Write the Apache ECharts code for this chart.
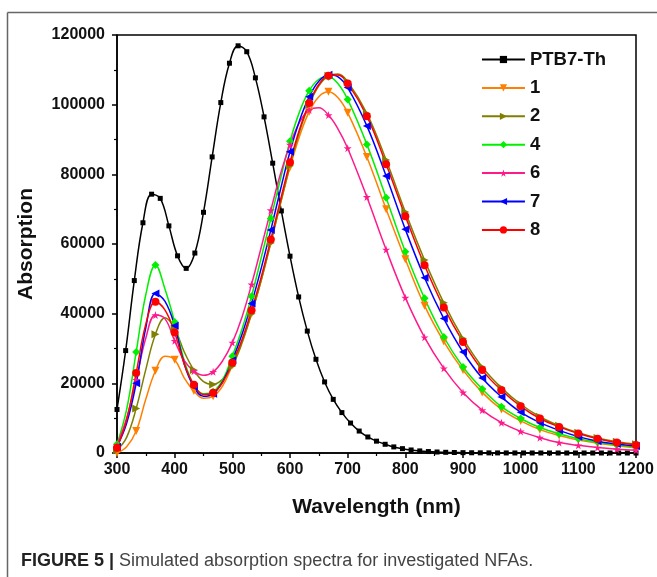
<!DOCTYPE html>
<html>
<head>
<meta charset="utf-8">
<script src="https://cdn.jsdelivr.net/npm/echarts@6/dist/echarts.min.js"></script>
<style>
  html, body { margin: 0; padding: 0; background: #fff; }
  #chart { width: 657px; height: 577px; }
</style>
</head>
<body>
<div id="chart"></div>
<script>
// PTB7-Th, sampled every 15 nm from 300 nm
const ptb7Abs = [12500, 29400, 49500, 66100, 74300, 73100, 65200, 56600, 53000, 57400,
  69100, 85000, 100600, 111900, 116900, 115200, 107700, 96500, 83200, 69500,
  56500, 44800, 35000, 26900, 20400, 15400, 11600, 8600, 6300, 4600,
  3400, 2500, 1750, 1250, 870, 600, 420, 290, 200, 140,
  100, 70, 50, 35, 25, 18, 12, 9, 6, 4,
  3, 2, 2, 1, 1, 1, 0, 0, 0, 0, 0];

// NFA wavelengths (nm)
const nfaWl = [300, 316.7, 333.3, 350, 366.7, 383.3, 400, 416.7, 433.3, 450,
  466.7, 483.3, 500, 516.7, 533.3, 550, 566.7, 583.3, 600, 616.7,
  633.3, 650, 666.7, 683.3, 700, 733.3, 766.7, 800, 833.3, 866.7,
  900, 933.3, 966.7, 1000, 1033.3, 1066.7, 1100, 1133.3, 1166.7, 1200];

const abs1 = [0, 1800, 6300, 15500, 23600, 27800, 26800, 21500, 17800, 15700,
  16300, 19300, 25200, 32000, 40000, 49500, 60500, 71500, 82000, 91000,
  98000, 102300, 103700, 102000, 97700, 85000, 70000, 55600, 42300, 32000,
  23800, 17400, 12500, 9200, 6700, 5000, 3700, 2800, 2100, 1500];
const abs2 = [800, 4500, 12800, 24000, 34100, 38800, 35700, 29000, 23800, 20500,
  19700, 21200, 25000, 31500, 40000, 49500, 60300, 71500, 82500, 92300,
  100000, 105400, 108300, 108800, 106600, 97500, 84100, 69200, 55400, 43100,
  32900, 24700, 18700, 14000, 10400, 7800, 5800, 4300, 3200, 2500];
const abs4 = [2500, 12500, 29000, 45500, 54000, 47000, 37600, 26500, 19500, 17000,
  17600, 21000, 27800, 35500, 45000, 56000, 67300, 78500, 89500, 98000,
  104000, 107300, 108000, 106000, 101500, 88600, 73300, 57800, 44400, 33300,
  24700, 18400, 13300, 9900, 7300, 5500, 4100, 3100, 2300, 1700];
const abs6 = [2200, 10000, 21000, 33000, 39600, 38500, 32200, 26500, 23500, 22300,
  23300, 26500, 31700, 39000, 48400, 59000, 69700, 80000, 88500, 95000,
  98500, 99100, 97000, 93000, 87500, 73500, 58400, 44600, 33200, 24300,
  17400, 12300, 8700, 6200, 4400, 3000, 2200, 1550, 1100, 800];
const abs7 = [1800, 8500, 20000, 36000, 45800, 43500, 36500, 25500, 19000, 16300,
  17000, 20500, 26600, 34000, 42900, 53000, 64000, 75500, 86500, 95500,
  102300, 106700, 108600, 108000, 104900, 93900, 79500, 64200, 50300, 38600,
  29000, 21500, 16100, 11700, 8700, 6500, 4700, 3400, 2600, 2000];
const abs8 = [1500, 9500, 23000, 37000, 43400, 41000, 34600, 25500, 19600, 16800,
  17300, 20300, 25900, 32500, 41000, 50500, 61300, 72500, 83500, 93000,
  100500, 105800, 108300, 108500, 106100, 96700, 82900, 68000, 53900, 41800,
  31900, 23800, 18000, 13400, 9900, 7500, 5600, 4100, 3000, 2300];

const xTicks = [300, 400, 500, 600, 700, 800, 900, 1000, 1100, 1200];
const yTicks = [0, 20000, 40000, 60000, 80000, 100000, 120000];

const STAR = 'path://M50,0 L61,35 L98,35 L68,57 L79,91 L50,70 L21,91 L32,57 L2,35 L39,35 Z';

// markers on every other point up to 700 nm, then on every point
function nfaData(vals) {
  return vals.map((v, i) => {
    const item = { value: [nfaWl[i], v] };
    if (i < 25 && i % 2 === 1) item.symbol = 'none';
    return item;
  });
}

function nfaSeries(name, vals, color, symbol, rotate, size) {
  return {
    name: name,
    type: 'line',
    smooth: 0.4,
    data: nfaData(vals),
    symbol: symbol,
    symbolRotate: rotate,
    symbolSize: size,
    showAllSymbol: true,
    lineStyle: { color: color, width: 1.5 },
    itemStyle: { color: color, borderWidth: 0 },
    z: 3
  };
}

const chart = echarts.init(document.getElementById('chart'), null, { renderer: 'canvas' });
const fontFam = '"Liberation Sans", Arial, sans-serif';

chart.setOption({
  animation: false,
  backgroundColor: '#fff',
  grid: {
    left: 117, right: 21, top: 35, bottom: 124,
    show: true, borderColor: '#000', borderWidth: 1.5
  },
  legend: {
    orient: 'vertical',
    right: 46, top: 45,
    itemWidth: 43, itemHeight: 9, itemGap: 9.4,
    textStyle: { fontFamily: fontFam, fontWeight: 'bold', fontSize: 18.5, color: '#111' },
    data: ['PTB7-Th', '1', '2', '4', '6', '7', '8']
  },
  xAxis: {
    type: 'value', min: 300, max: 1200, interval: 100,
    name: 'Wavelength (nm)', nameLocation: 'middle', nameGap: 44,
    nameTextStyle: { fontFamily: fontFam, fontWeight: 'bold', fontSize: 21, color: '#111' },
    axisLine: { lineStyle: { color: '#000', width: 1.5 } },
    axisTick: { inside: false, length: 5, lineStyle: { width: 1.5 } },
    minorTick: { show: true, splitNumber: 2, length: 3, lineStyle: { color: '#000', width: 1.2 } },
    splitLine: { show: false },
    axisLabel: {
      margin: 9, fontFamily: fontFam, fontWeight: 'bold', fontSize: 16, color: '#111',
      formatter: v => (xTicks.indexOf(v) >= 0 ? String(v) : '')
    }
  },
  yAxis: {
    type: 'value', min: 0, max: 120000, interval: 20000,
    name: 'Absorption', nameLocation: 'middle', nameGap: 80, nameRotate: 90,
    nameTextStyle: { fontFamily: fontFam, fontWeight: 'bold', fontSize: 21, color: '#111' },
    axisLine: { show: true, lineStyle: { color: '#000', width: 1.5 } },
    axisTick: { show: true, inside: false, length: 5, lineStyle: { width: 1.5 } },
    minorTick: { show: true, splitNumber: 2, length: 3, lineStyle: { color: '#000', width: 1.2 } },
    splitLine: { show: false },
    axisLabel: {
      margin: 12, fontFamily: fontFam, fontWeight: 'bold', fontSize: 16, color: '#111',
      formatter: v => (yTicks.indexOf(v) >= 0 ? String(v) : '')
    }
  },
  graphic: [
    { type: 'line', shape: { x1: 7.5, y1: 12.5, x2: 657, y2: 12.5 }, style: { stroke: '#666', lineWidth: 1.5 } },
    { type: 'line', shape: { x1: 7.5, y1: 12.5, x2: 7.5, y2: 577 }, style: { stroke: '#666', lineWidth: 1.5 } },
    {
      type: 'text', left: 21, top: 552,
      style: {
        text: '{b|FIGURE 5 |} Simulated absorption spectra for investigated NFAs.',
        font: '18px "Liberation Sans", Arial, sans-serif',
        fill: '#444',
        rich: { b: { fontWeight: 'bold', fontSize: 18, fill: '#222', fontFamily: fontFam } }
      }
    }
  ],
  series: [
    {
      name: 'PTB7-Th',
      type: 'line',
      smooth: 0.4,
      data: ptb7Abs.map((v, i) => [300 + 15 * i, v]),
      symbol: 'rect',
      symbolSize: 5,
      showAllSymbol: true,
      lineStyle: { color: '#000', width: 1.5 },
      itemStyle: { color: '#000' },
      z: 2
    },
    nfaSeries('1', abs1, '#ff8000', 'triangle', 180, 8),
    nfaSeries('2', abs2, '#808000', 'triangle', -90, 8),
    nfaSeries('4', abs4, '#00f000', 'diamond', 0, 8),
    nfaSeries('6', abs6, '#ff1a8c', STAR, 0, 8),
    nfaSeries('7', abs7, '#0000ff', 'triangle', 90, 8),
    nfaSeries('8', abs8, '#ff0000', 'circle', 0, 8)
  ]
});
</script>
</body>
</html>
